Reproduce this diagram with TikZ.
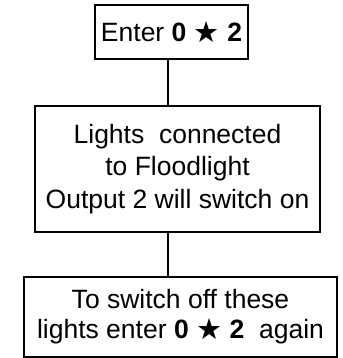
\documentclass[tikz,border=0pt]{standalone}
\usepackage{fontspec}
\setmainfont{Liberation Sans}
\newfontfamily\symfont{DejaVu Sans}
\newcommand{\keystar}{{\symfont\raisebox{-1pt}{\scalebox{1.1}{\char"2605}}}}

\begin{document}
\begin{tikzpicture}[x=1pt,y=-1pt,line width=1.6pt,
box/.style={draw,align=center,inner sep=0pt,font=\fontsize{26.5}{32.5}\selectfont}]
\useasboundingbox(0,0)rectangle(342,358);
\node[box,minimum width=153pt,minimum height=54pt](enter)at(171.5,32){Enter \textbf{0} \keystar{} \textbf{2}};
\node[box,minimum width=285pt,minimum height=126pt](lights)at(177.5,169){Lights\ \ connected\\to Floodlight\\Output 2 will switch on};
\node[box,minimum width=313pt,minimum height=80pt,font=\fontsize{26.5}{30}\selectfont](off)at(180.5,317){To switch off these\\lights enter \textbf{0} \keystar{} \textbf{2}\ \ again};
\coordinate(c)at(168,0);
\draw(c|-enter.south)--(c|-lights.north)(c|-lights.south)--(c|-off.north);
\end{tikzpicture}
\end{document}
